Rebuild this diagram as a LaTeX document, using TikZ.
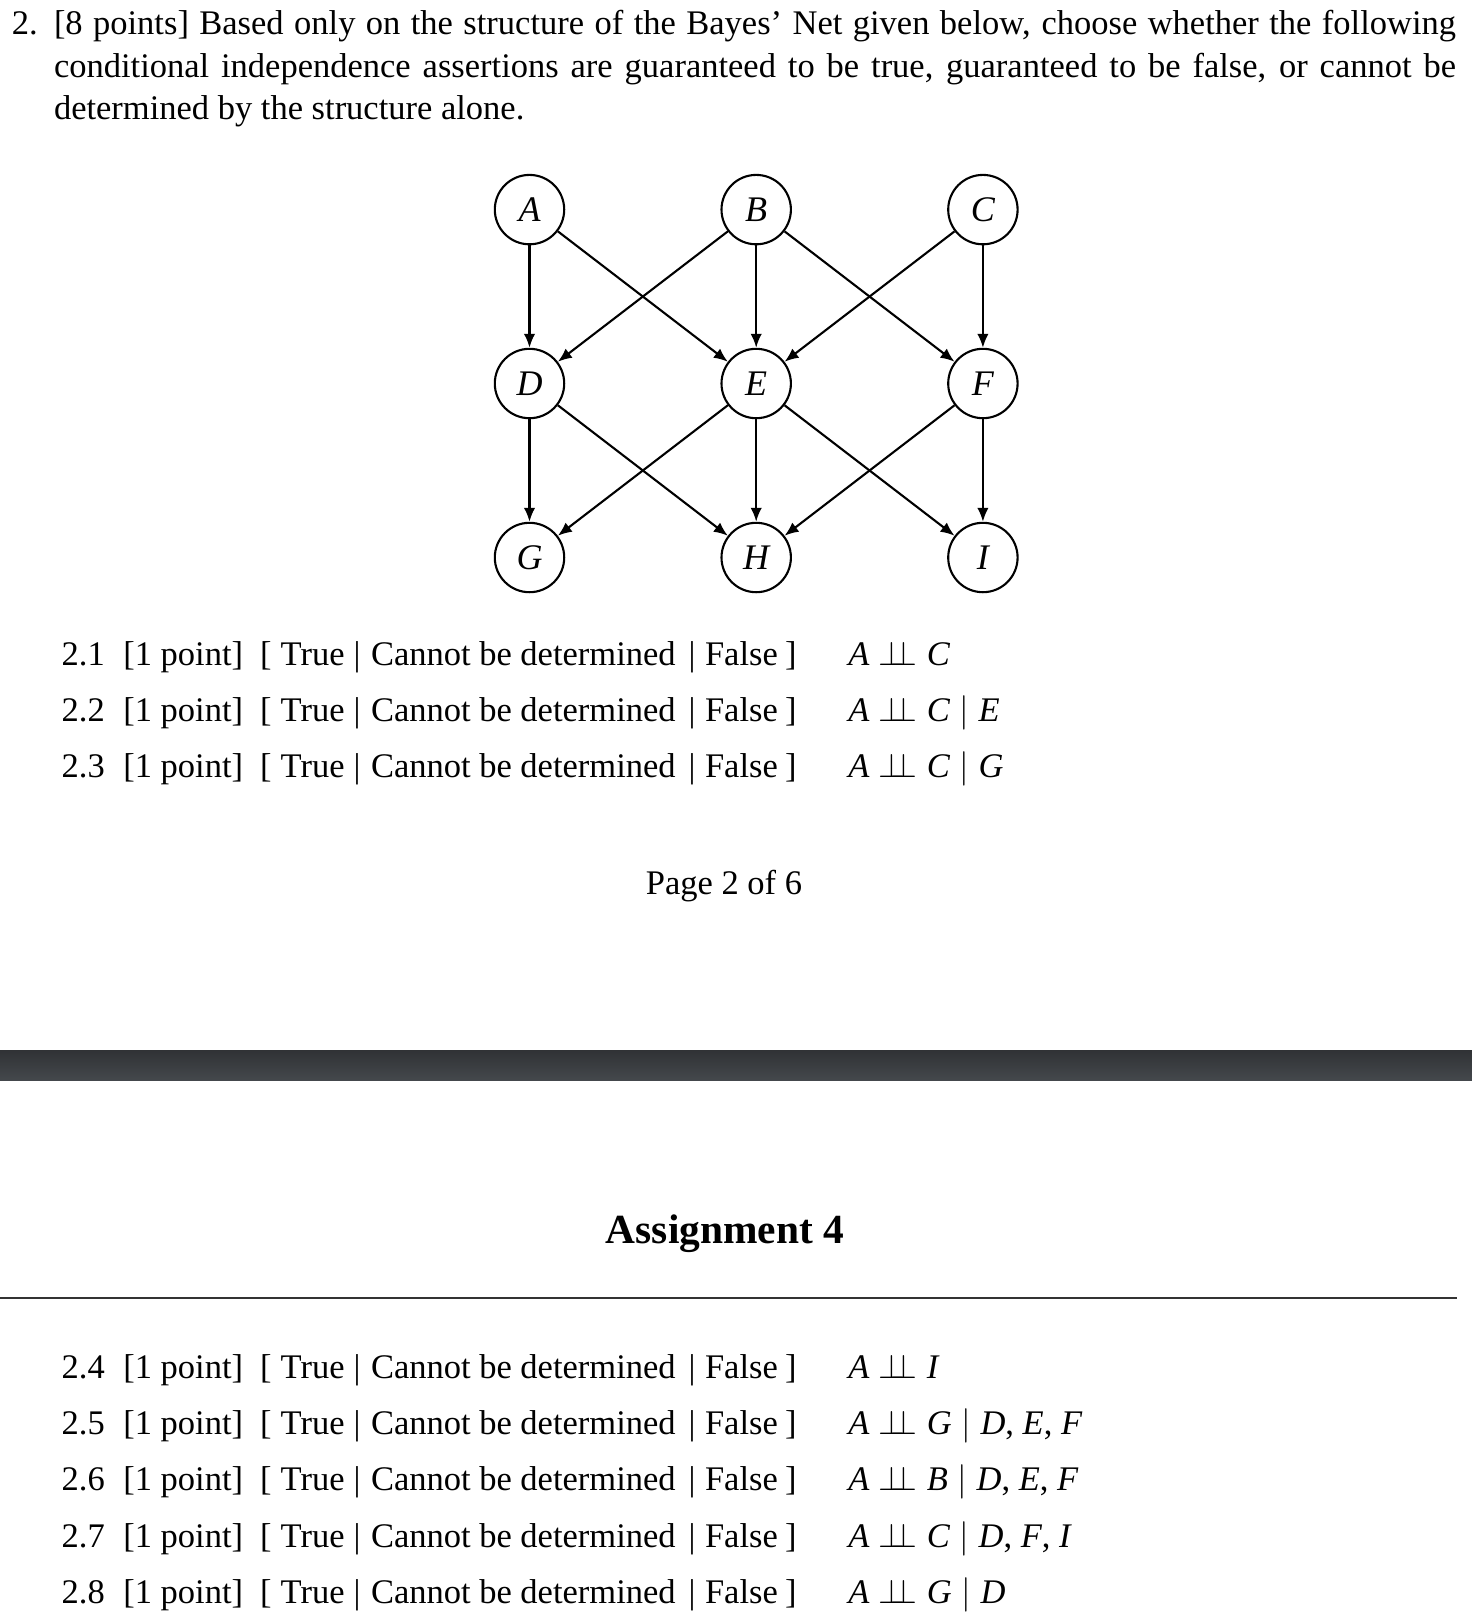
\RequirePackage{fix-cm}
\documentclass[tikz,border=0pt]{standalone}
\usepackage{fontspec}
\setmainfont{Liberation Serif}
\usetikzlibrary{arrows.meta}
\newcommand{\indep}{\mathrel{\perp\mkern-8mu\perp}}
\definecolor{barTop}{RGB}{48,50,53}
\definecolor{barMid}{RGB}{86,90,94}
\definecolor{barBot}{RGB}{68,72,76}
\newcommand{\ansline}[4]{%
  \node[txt] (n#1) at (61.7,#2) {#3};
  \node[txt] (p#1) at (123.3,#2) {[1 point]};
  \node[txt] (lb#1) at (260,#2) {[};
  \node[txt] (t#1) at (280.7,#2) {True};
  \node[txt] (s#1) at (353.5,#2) {|};
  \node[txt] (c#1) at (371,#2) {Cannot be determined};
  \node[txt] (u#1) at (688.5,#2) {|};
  \node[txt] (f#1) at (705,#2) {False};
  \node[txt] (rb#1) at (785,#2) {]};
  \node[txt] (m#1) at (848.3,#2) {#4};
}
\begin{document}
\begin{tikzpicture}[x=1pt,y=-1pt,
  txt/.style={anchor=base west, inner sep=0pt, outer sep=0pt, font=\fontsize{34.5}{42.5}\selectfont},
  ctxt/.style={anchor=base, inner sep=0pt, outer sep=0pt, font=\fontsize{34.5}{42.5}\selectfont},
  var/.style={circle, draw, line width=2.1pt, minimum size=69.4pt, inner sep=0pt, font=\fontsize{36}{42}\selectfont\itshape},
  edge/.style={line width=2.1pt, -{Latex[length=14pt,width=11.5pt]}},
]
\useasboundingbox (0,0) rectangle (1472,1623);
\fill[white] (0,0) rectangle (1472,1623);

% question text
\node[txt] (qnum) at (12,34.3) {2.};
\node[txt] (q1) at (54,34.3) {\makebox[1402pt][s]{[8 points] Based only on the structure of the Bayes’ Net given below, choose whether the following}};
\node[txt] (q2) at (54,77.2) {\makebox[1402pt][s]{conditional independence assertions are guaranteed to be true, guaranteed to be false, or cannot be}};
\node[txt] (q3) at (54,119.6) {determined by the structure alone.};

% Bayes net
\node[var] (A) at (529.5,209.6) {A};
\node[var] (B) at (756.2,209.6) {B};
\node[var] (C) at (982.9,209.6) {C};
\node[var] (D) at (529.5,383.5) {D};
\node[var] (E) at (756.2,383.5) {E};
\node[var] (F) at (982.9,383.5) {F};
\node[var] (G) at (529.5,557.5) {G};
\node[var] (H) at (756.2,557.5) {H};
\node[var] (I) at (982.9,557.5) {I};

\draw[edge] (A) -- (D);
\draw[edge] (A) -- (E);
\draw[edge] (B) -- (D);
\draw[edge] (B) -- (E);
\draw[edge] (B) -- (F);
\draw[edge] (C) -- (E);
\draw[edge] (C) -- (F);
\draw[edge] (D) -- (G);
\draw[edge] (D) -- (H);
\draw[edge] (E) -- (G);
\draw[edge] (E) -- (H);
\draw[edge] (E) -- (I);
\draw[edge] (F) -- (H);
\draw[edge] (F) -- (I);

% answers, first part
\ansline{a}{665.6}{2.1}{$\textit{A}\indep\textit{C}$}
\ansline{b}{721.4}{2.2}{$\textit{A}\indep\textit{C}\mid\textit{E}$}
\ansline{c}{777.2}{2.3}{$\textit{A}\indep\textit{C}\mid\textit{G}$}

\node[ctxt] (page) at (724,894) {Page 2 of 6};

% separator bar
\shade[top color=barTop, middle color=barMid, bottom color=barBot] (0,1050) rectangle (1472,1080);

\node[anchor=base, inner sep=0pt, font=\fontsize{41.4}{50}\selectfont\bfseries] (title) at (725,1243.3) {Assignment 4};
\draw[line width=1.5pt, black!80] (0,1298) -- (1457,1298);

% answers, second part
\ansline{d}{1378}{2.4}{$\textit{A}\indep\textit{I}$}
\ansline{e}{1434.4}{2.5}{$\textit{A}\indep\textit{G}\mid\textit{D}$, \textit{E}, \textit{F}}
\ansline{f}{1490.8}{2.6}{$\textit{A}\indep\textit{B}\mid\textit{D}$, \textit{E}, \textit{F}}
\ansline{g}{1547.2}{2.7}{$\textit{A}\indep\textit{C}\mid\textit{D}$, \textit{F}, \textit{I}}
\ansline{h}{1603.6}{2.8}{$\textit{A}\indep\textit{G}\mid\textit{D}$}
\end{tikzpicture}
\end{document}
